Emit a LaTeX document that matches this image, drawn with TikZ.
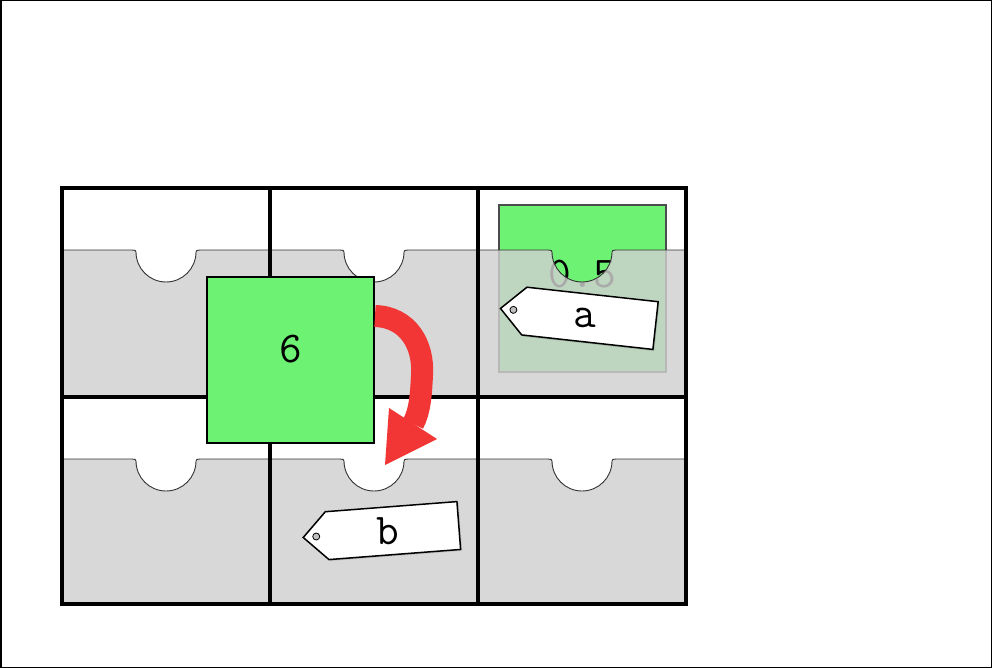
\documentclass[tikz,border=0pt]{standalone}
\usepackage{fontspec}
\usetikzlibrary{calc}
\definecolor{boxgreen}{HTML}{6EF274}
\definecolor{arrowred}{HTML}{F23535}
\definecolor{panelgray}{HTML}{D0D0D0}
\newcommand{\cellpanel}[3]{% left x, panel top y, bottom y
  \pgfmathsetmacro{\cx}{#1+104}
  \pgfmathsetmacro{\cc}{#2+2}
  \filldraw[panelstyle] (#1,#2) -- ({\cx-34},#2)
    .. controls ({\cx-31},#2) and ({\cx-30},{#2+0.5}) .. ({\cx-30},\cc)
    .. controls ({\cx-30},{\cc+16.57}) and ({\cx-16.57},{\cc+30}) .. (\cx,{\cc+30})
    .. controls ({\cx+16.57},{\cc+30}) and ({\cx+30},{\cc+16.57}) .. ({\cx+30},\cc)
    .. controls ({\cx+30},{#2+0.5}) and ({\cx+31},#2) .. ({\cx+34},#2)
    -- ({#1+208},#2) -- ({#1+208},#3) -- (#1,#3) -- cycle;
}
\newcommand{\pricetag}[5]{% name, x, y, angle, text
  \begin{scope}[shift={(#2,#3)}, rotate=#4]
    \fill[black, opacity=0.12] (-76.5,1.5) -- (-52.5,-22.5) -- (79.5,-22.5) -- (79.5,25.5) -- (-52.5,25.5) -- cycle;
    \draw[tagstyle] (-78,0) -- (-54,-24) -- (78,-24) -- (78,24) -- (-54,24) -- cycle;
    \draw[fill=black!25, line width=0.8] (-65,0) circle[radius=3.5];
    \node[labeltext] (#1) at (7,0) {#5};
  \end{scope}
}
\tikzset{
  panelstyle/.style={fill=panelgray, fill opacity=0.82, draw=black!80, line width=0.9},
  gridline/.style={line width=4, black},
  tagstyle/.style={fill=white, draw=black, line width=1.5},
  labeltext/.style={font=\ttfamily\fontsize{44}{44}\selectfont, inner sep=0},
}
\begin{document}
\begin{tikzpicture}[x=1pt,y=-1pt]
\useasboundingbox (0,0) rectangle (992,668);
\draw[line width=1.5] (0.75,0.75) rectangle (991.25,667.25);

% green block under the top-right panel
\node[draw=black!70, line width=1.2, fill=boxgreen, minimum width=167, minimum height=167, inner sep=0] (half) at (582.5,288.5) {};
\node[labeltext, anchor=base] (halflabel) at ($(half.center)+(0,-1)$) {0.5};

% front panels
\foreach \lx in {62,270,478}{
  \cellpanel{\lx}{250}{396.5}
  \cellpanel{\lx}{459}{604}
}

% grid
\draw[gridline] (62,188) rectangle (686,604);
\draw[gridline] (270,188) -- (270,604);
\draw[gridline] (478,188) -- (478,604);
\draw[gridline] (62,396.5) -- (686,396.5);

% big green square
\node[draw=black, line width=2, fill=boxgreen, minimum width=167, minimum height=166, inner sep=0] (six) at (290.5,360) {};
\node[labeltext, anchor=base] (sixlabel) at ($(six.center)+(0,2)$) {6};

% tags
\pricetag{taga}{578}{317}{-6.3}{a}
\pricetag{tagb}{381}{531.5}{4.4}{b}

% red arrow
\coordinate (arrowstart) at ($(six.north east)+(0,40)$);
\coordinate (headbase) at (413,424);
\coordinate (headl) at (389,408);
\coordinate (headr) at (437,439);
\coordinate (headtip) at (385,465);
\draw[arrowred, line width=22] (arrowstart) .. controls (408,317) and (424,345) .. (422,375)
  .. controls (421,395) and (420,411) .. (headbase);
\fill[arrowred] (headl) -- (headr) -- (headtip) -- cycle;
\end{tikzpicture}
\end{document}
